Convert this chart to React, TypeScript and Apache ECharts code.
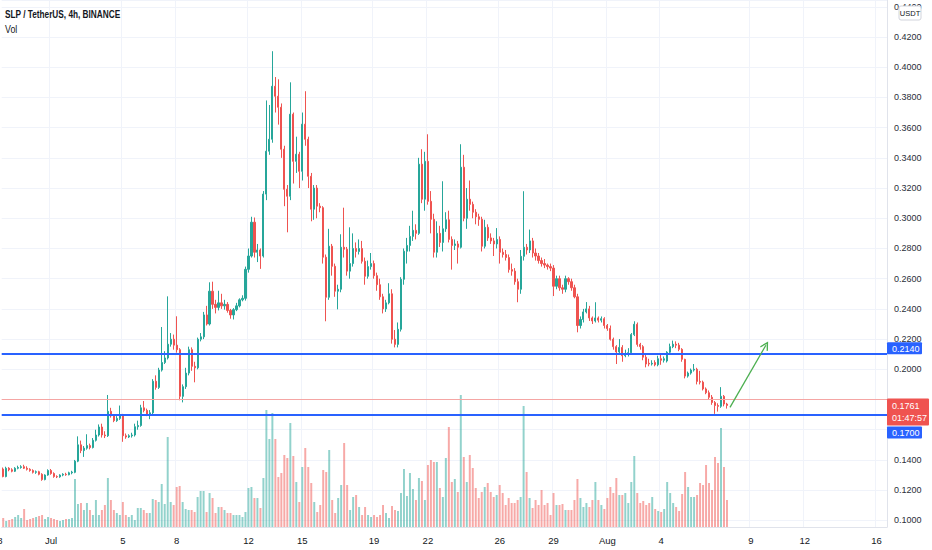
import React, { useEffect, useRef } from "react";
import * as echarts from "echarts";

// ---------- axis categories (4h slots) ----------
const SLOT_HOURS = 4;
const SLOT_COUNT = 296;
const START_UTC = Date.UTC(2021, 5, 28, 8, 0, 0);
const pad = (n: number) => String(n).padStart(2, "0");
const categories: string[] = Array.from({ length: SLOT_COUNT }, (_, i) => {
  const d = new Date(START_UTC + i * SLOT_HOURS * 3600 * 1000);
  return `${pad(d.getUTCMonth() + 1)}-${pad(d.getUTCDate())} ${pad(d.getUTCHours())}:00`;
});

const dateTicks: [string, string][] = [
  ["07-01 00:00", "Jul"], ["07-05 00:00", "5"], ["07-08 00:00", "8"],
  ["07-12 00:00", "12"], ["07-15 00:00", "15"], ["07-19 00:00", "19"], ["07-22 00:00", "22"],
  ["07-26 00:00", "26"], ["07-29 00:00", "29"], ["08-01 00:00", "Aug"], ["08-04 00:00", "4"],
  ["08-09 00:00", "9"], ["08-12 00:00", "12"], ["08-16 00:00", "16"],
];
const leadingTickLabel = "28"; // Jun 28, two slots before the first category

// ---------- OHLC [open, close, low, high] ----------
const ohlcJun28_Jul04: number[][] = [
  [0.1340, 0.1290, 0.1285, 0.1350],
  [0.1290, 0.1345, 0.1285, 0.1355], [0.1345, 0.1335, 0.1325, 0.1352], [0.1335, 0.1325, 0.1318, 0.1345],
  [0.1325, 0.1345, 0.1320, 0.1352], [0.1345, 0.1350, 0.1338, 0.1362], [0.1350, 0.1355, 0.1342, 0.1365],
  [0.1355, 0.1345, 0.1340, 0.1368], [0.1345, 0.1338, 0.1330, 0.1358], [0.1338, 0.1330, 0.1322, 0.1345],
  [0.1330, 0.1318, 0.1310, 0.1338], [0.1318, 0.1322, 0.1308, 0.1330], [0.1322, 0.1305, 0.1298, 0.1328],
  [0.1305, 0.1270, 0.1262, 0.1312], [0.1270, 0.1300, 0.1265, 0.1305], [0.1300, 0.1330, 0.1295, 0.1338],
  [0.1330, 0.1310, 0.1302, 0.1340], [0.1310, 0.1290, 0.1282, 0.1318], [0.1290, 0.1288, 0.1280, 0.1298],
  [0.1288, 0.1300, 0.1282, 0.1305], [0.1300, 0.1305, 0.1292, 0.1312], [0.1305, 0.1302, 0.1295, 0.1315],
  [0.1302, 0.1315, 0.1298, 0.1322], [0.1315, 0.1320, 0.1305, 0.1328], [0.1318, 0.1392, 0.1312, 0.1400],
  [0.1392, 0.1500, 0.1385, 0.1556], [0.1500, 0.1462, 0.1445, 0.1528], [0.1462, 0.1478, 0.1420, 0.1492],
  [0.1478, 0.1495, 0.1468, 0.1570], [0.1495, 0.1482, 0.1470, 0.1508], [0.1482, 0.1530, 0.1476, 0.1545],
  [0.1530, 0.1565, 0.1522, 0.1600], [0.1565, 0.1618, 0.1555, 0.1635], [0.1618, 0.1565, 0.1548, 0.1640],
  [0.1565, 0.1560, 0.1545, 0.1590], [0.1560, 0.1722, 0.1552, 0.1830], [0.1722, 0.1692, 0.1680, 0.1745],
  [0.1692, 0.1660, 0.1650, 0.1700], [0.1660, 0.1675, 0.1652, 0.1690], [0.1675, 0.1700, 0.1665, 0.1760],
];
const ohlcJul05_Jul11: number[][] = [
  [0.1700, 0.1560, 0.1520, 0.1705], [0.1560, 0.1552, 0.1540, 0.1575], [0.1552, 0.1560, 0.1545, 0.1570],
  [0.1560, 0.1565, 0.1548, 0.1580], [0.1565, 0.1620, 0.1555, 0.1640], [0.1620, 0.1628, 0.1600, 0.1660],
  [0.1628, 0.1745, 0.1620, 0.1765], [0.1745, 0.1728, 0.1715, 0.1790], [0.1728, 0.1700, 0.1690, 0.1740],
  [0.1700, 0.1712, 0.1670, 0.1730], [0.1712, 0.1921, 0.1700, 0.1935], [0.1921, 0.1880, 0.1865, 0.1960],
  [0.1880, 0.1995, 0.1870, 0.2010], [0.1995, 0.2045, 0.1985, 0.2280], [0.2045, 0.2075, 0.2035, 0.2120],
  [0.2075, 0.2166, 0.2065, 0.2483], [0.2166, 0.2199, 0.2150, 0.2240], [0.2199, 0.2160, 0.2130, 0.2230],
  [0.2160, 0.2130, 0.2110, 0.2351], [0.2130, 0.1821, 0.1795, 0.2140], [0.1821, 0.1885, 0.1781, 0.1900],
  [0.1885, 0.1975, 0.1870, 0.2010], [0.1975, 0.2130, 0.1960, 0.2150], [0.2130, 0.2020, 0.1990, 0.2145],
  [0.2020, 0.2010, 0.1914, 0.2050], [0.2010, 0.2199, 0.2000, 0.2210], [0.2199, 0.2215, 0.2185, 0.2240],
  [0.2215, 0.2360, 0.2200, 0.2380], [0.2360, 0.2300, 0.2290, 0.2420], [0.2300, 0.2517, 0.2290, 0.2576],
  [0.2517, 0.2430, 0.2400, 0.2580], [0.2430, 0.2410, 0.2370, 0.2460], [0.2410, 0.2440, 0.2390, 0.2520],
  [0.2440, 0.2420, 0.2400, 0.2500], [0.2420, 0.2430, 0.2395, 0.2460], [0.2430, 0.2390, 0.2375, 0.2445],
  [0.2390, 0.2360, 0.2335, 0.2400], [0.2360, 0.2395, 0.2330, 0.2405], [0.2395, 0.2420, 0.2385, 0.2440],
  [0.2420, 0.2460, 0.2410, 0.2470], [0.2460, 0.2470, 0.2450, 0.2490], [0.2470, 0.2662, 0.2455, 0.2680],
];
const ohlcJul12_Jul18: number[][] = [
  [0.2662, 0.2750, 0.2640, 0.2800], [0.2750, 0.2974, 0.2740, 0.3010], [0.2974, 0.2775, 0.2740, 0.3005],
  [0.2775, 0.2790, 0.2710, 0.2830], [0.2790, 0.2750, 0.2665, 0.2800], [0.2750, 0.3160, 0.2740, 0.3180],
  [0.3160, 0.3444, 0.3120, 0.3780], [0.3444, 0.3523, 0.3420, 0.3750], [0.3523, 0.3874, 0.3500, 0.4106],
  [0.3874, 0.3808, 0.3700, 0.3935], [0.3808, 0.3735, 0.3620, 0.3920], [0.3735, 0.3457, 0.3400, 0.3760],
  [0.3457, 0.3192, 0.3080, 0.3480], [0.3192, 0.3146, 0.2907, 0.3220], [0.3146, 0.3689, 0.3120, 0.3900],
  [0.3689, 0.3377, 0.3230, 0.3700], [0.3377, 0.3424, 0.3300, 0.3540], [0.3424, 0.3311, 0.3200, 0.3440],
  [0.3311, 0.3623, 0.3250, 0.3700], [0.3623, 0.3523, 0.3480, 0.3841], [0.3523, 0.3278, 0.3200, 0.3540],
  [0.3278, 0.3060, 0.2980, 0.3300], [0.3060, 0.3200, 0.2990, 0.3220], [0.3200, 0.3080, 0.3000, 0.3220],
  [0.3080, 0.3070, 0.3040, 0.3100], [0.3070, 0.2742, 0.2700, 0.3080], [0.2742, 0.2477, 0.2318, 0.2760],
  [0.2477, 0.2815, 0.2460, 0.2930], [0.2815, 0.2682, 0.2620, 0.2830], [0.2682, 0.2517, 0.2480, 0.2700],
  [0.2517, 0.2530, 0.2397, 0.2560], [0.2530, 0.2808, 0.2510, 0.2894], [0.2808, 0.2795, 0.2740, 0.3070],
  [0.2795, 0.2650, 0.2620, 0.2810], [0.2650, 0.2700, 0.2600, 0.2940], [0.2700, 0.2800, 0.2680, 0.2900],
  [0.2800, 0.2780, 0.2740, 0.2840], [0.2780, 0.2800, 0.2760, 0.2860], [0.2800, 0.2715, 0.2700, 0.2850],
  [0.2715, 0.2616, 0.2560, 0.2740], [0.2616, 0.2680, 0.2600, 0.2720], [0.2680, 0.2700, 0.2660, 0.2770],
];
const ohlcJul19_Jul25: number[][] = [
  [0.2700, 0.2620, 0.2600, 0.2720], [0.2620, 0.2560, 0.2520, 0.2640], [0.2560, 0.2480, 0.2460, 0.2600],
  [0.2480, 0.2400, 0.2370, 0.2500], [0.2400, 0.2440, 0.2380, 0.2460], [0.2440, 0.2500, 0.2430, 0.2570],
  [0.2500, 0.2199, 0.2170, 0.2530], [0.2199, 0.2165, 0.2145, 0.2260], [0.2165, 0.2265, 0.2145, 0.2310],
  [0.2265, 0.2596, 0.2250, 0.2610], [0.2596, 0.2782, 0.2560, 0.2800], [0.2782, 0.2820, 0.2700, 0.2870],
  [0.2820, 0.2880, 0.2780, 0.2950], [0.2880, 0.2920, 0.2850, 0.3050], [0.2920, 0.2900, 0.2860, 0.2960],
  [0.2900, 0.3358, 0.2890, 0.3400], [0.3358, 0.3126, 0.3100, 0.3457], [0.3126, 0.3377, 0.3050, 0.3440],
  [0.3377, 0.3112, 0.3090, 0.3556], [0.3112, 0.2993, 0.2900, 0.3180], [0.2993, 0.2775, 0.2740, 0.3030],
  [0.2775, 0.2900, 0.2740, 0.2980], [0.2900, 0.2840, 0.2810, 0.2950], [0.2840, 0.2930, 0.2780, 0.3245],
  [0.2930, 0.2990, 0.2910, 0.3040], [0.2990, 0.2860, 0.2840, 0.3050], [0.2860, 0.2820, 0.2660, 0.2880],
  [0.2820, 0.2830, 0.2790, 0.2860], [0.2830, 0.2808, 0.2700, 0.2850], [0.2808, 0.3338, 0.2800, 0.3490],
  [0.3338, 0.3000, 0.2980, 0.3420], [0.3000, 0.3126, 0.2930, 0.3200], [0.3126, 0.3092, 0.3050, 0.3250],
  [0.3092, 0.3040, 0.3000, 0.3110], [0.3040, 0.3010, 0.2960, 0.3060], [0.3010, 0.2993, 0.2950, 0.3030],
  [0.2993, 0.2815, 0.2780, 0.3010], [0.2815, 0.2940, 0.2800, 0.2990], [0.2940, 0.2870, 0.2850, 0.2960],
  [0.2870, 0.2850, 0.2830, 0.2900], [0.2850, 0.2830, 0.2750, 0.2870], [0.2830, 0.2860, 0.2800, 0.2935],
];
const ohlcJul26_Aug01: number[][] = [
  [0.2860, 0.2775, 0.2700, 0.2880], [0.2775, 0.2760, 0.2740, 0.2800], [0.2760, 0.2740, 0.2720, 0.2790],
  [0.2740, 0.2660, 0.2640, 0.2760], [0.2660, 0.2650, 0.2620, 0.2700], [0.2650, 0.2580, 0.2560, 0.2670],
  [0.2580, 0.2530, 0.2444, 0.2600], [0.2530, 0.2748, 0.2500, 0.2790], [0.2748, 0.2808, 0.2720, 0.3179],
  [0.2808, 0.2790, 0.2760, 0.2830], [0.2790, 0.2850, 0.2770, 0.2925], [0.2850, 0.2770, 0.2740, 0.2870],
  [0.2770, 0.2750, 0.2720, 0.2800], [0.2750, 0.2720, 0.2700, 0.2770], [0.2720, 0.2700, 0.2680, 0.2740],
  [0.2700, 0.2690, 0.2670, 0.2730], [0.2690, 0.2680, 0.2660, 0.2700], [0.2680, 0.2670, 0.2650, 0.2700],
  [0.2670, 0.2550, 0.2485, 0.2690], [0.2550, 0.2600, 0.2530, 0.2620], [0.2600, 0.2540, 0.2520, 0.2620],
  [0.2540, 0.2530, 0.2500, 0.2560], [0.2530, 0.2600, 0.2510, 0.2620], [0.2600, 0.2580, 0.2560, 0.2610],
  [0.2580, 0.2540, 0.2520, 0.2600], [0.2540, 0.2480, 0.2470, 0.2560], [0.2480, 0.2290, 0.2245, 0.2500],
  [0.2290, 0.2330, 0.2270, 0.2350], [0.2330, 0.2380, 0.2310, 0.2400], [0.2380, 0.2400, 0.2370, 0.2445],
  [0.2400, 0.2340, 0.2320, 0.2420], [0.2340, 0.2320, 0.2300, 0.2350], [0.2320, 0.2340, 0.2310, 0.2444],
  [0.2340, 0.2325, 0.2310, 0.2350], [0.2325, 0.2335, 0.2310, 0.2350], [0.2335, 0.2290, 0.2270, 0.2345],
  [0.2290, 0.2270, 0.2255, 0.2300], [0.2270, 0.2199, 0.2190, 0.2290], [0.2199, 0.2150, 0.2130, 0.2210],
  [0.2150, 0.2115, 0.2035, 0.2160], [0.2115, 0.2145, 0.2100, 0.2200], [0.2145, 0.2090, 0.2050, 0.2160],
];
const ohlcAug02_Aug07: number[][] = [
  [0.2090, 0.2105, 0.2080, 0.2130], [0.2105, 0.2110, 0.2085, 0.2140], [0.2110, 0.2230, 0.2100, 0.2240],
  [0.2230, 0.2298, 0.2220, 0.2318], [0.2298, 0.2165, 0.2150, 0.2310], [0.2165, 0.2150, 0.2130, 0.2175],
  [0.2150, 0.2080, 0.2060, 0.2160], [0.2080, 0.2035, 0.2013, 0.2095], [0.2040, 0.2035, 0.2020, 0.2070],
  [0.2035, 0.2040, 0.2025, 0.2060], [0.2045, 0.2030, 0.2020, 0.2060], [0.2030, 0.2070, 0.2020, 0.2090],
  [0.2070, 0.2060, 0.2030, 0.2100], [0.2060, 0.2070, 0.2045, 0.2085], [0.2055, 0.2113, 0.2045, 0.2120],
  [0.2113, 0.2150, 0.2100, 0.2170], [0.2150, 0.2166, 0.2140, 0.2190], [0.2166, 0.2160, 0.2140, 0.2185],
  [0.2160, 0.2132, 0.2120, 0.2175], [0.2132, 0.2066, 0.2050, 0.2140], [0.2066, 0.1955, 0.1940, 0.2070],
  [0.1955, 0.1975, 0.1945, 0.1985], [0.1975, 0.1995, 0.1965, 0.2005], [0.1995, 0.2000, 0.1985, 0.2035],
  [0.2000, 0.1920, 0.1900, 0.2010], [0.1920, 0.1915, 0.1900, 0.1990], [0.1915, 0.1870, 0.1860, 0.1925],
  [0.1870, 0.1845, 0.1835, 0.1880], [0.1845, 0.1815, 0.1800, 0.1860], [0.1815, 0.1780, 0.1765, 0.1830],
  [0.1780, 0.1760, 0.1705, 0.1790], [0.1760, 0.1755, 0.1720, 0.1775], [0.1755, 0.1821, 0.1745, 0.1882],
  [0.1821, 0.1770, 0.1755, 0.1830], [0.1770, 0.1761, 0.1740, 0.1778],
];
const ohlc: number[][] = [
  ...ohlcJun28_Jul04, ...ohlcJul05_Jul11, ...ohlcJul12_Jul18,
  ...ohlcJul19_Jul25, ...ohlcJul26_Aug01, ...ohlcAug02_Aug07,
];

// ---------- volume (relative units) ----------
const volumes: number[] = [
  9, 6, 7, 8, 10, 12, 9, 18, 7, 8, 9, 10, 11, 12, 8, 10, 9, 8,
  7, 6, 7, 8, 8, 9, 48, 23, 24, 17, 24, 17, 12, 27, 12, 17, 22, 49, 27, 17,
  14, 12, 25, 12, 10, 12, 7, 19, 19, 17, 14, 14, 28, 27, 25, 43, 23, 90, 25, 22,
  40, 41, 25, 18, 17, 17, 15, 30, 36, 36, 15, 34, 29, 14, 20, 20, 17, 14, 14, 12,
  12, 12, 10, 15, 39, 40, 29, 29, 19, 49, 117, 88, 114, 88, 50, 54, 72, 69, 104, 71,
  45, 25, 60, 79, 60, 44, 25, 15, 22, 57, 55, 77, 27, 14, 29, 42, 84, 42, 17, 30,
  32, 20, 12, 20, 12, 10, 12, 10, 12, 22, 14, 9, 21, 17, 16, 34, 58, 31, 54, 38,
  27, 49, 46, 27, 62, 67, 65, 65, 39, 30, 69, 100, 45, 48, 35, 132, 70, 45, 72, 59,
  39, 29, 35, 40, 44, 35, 30, 32, 42, 34, 22, 29, 24, 24, 27, 30, 121, 55, 29, 19,
  27, 22, 37, 22, 24, 12, 34, 22, 22, 23, 17, 17, 17, 27, 48, 29, 20, 24, 20, 27,
  45, 27, 22, 18, 29, 40, 34, 49, 32, 32, 34, 24, 45, 71, 34, 24, 26, 22, 24, 30,
  18, 16, 15, 18, 45, 34, 24, 20, 16, 33, 55, 40, 30, 30, 32, 44, 42, 62, 44, 37,
  70, 64, 99, 60, 27,
];
const VOLUME_AXIS_MAX = 527;

// ---------- price axis range ----------
const PRICE_MIN = 0.0956;
const PRICE_MAX = 0.4445;
const PRICE_STEP = 0.02;

// ---------- levels & annotation ----------
const supportLevels: number[] = [0.214, 0.17];
const lastPrice = 0.1761;
const countdown = "01:47:57";
const hiddenAxisBand: [number, number] = [0.155, 0.185]; // covered by the price tags
const projection: [string, number][] = [
  [categories[243], 0.1748],
  [categories[255], 0.2159],
];

const UP = "#26a69a";
const DOWN = "#ef5350";
const UP_VOL = "rgba(38,166,154,0.5)";
const DOWN_VOL = "rgba(239,83,80,0.5)";
const BLUE = "#2962ff";
const TEXT = "#131722";
const FONT = "'Liberation Sans', Arial, sans-serif";

const GRID_LEFT = 1.7;
const GRID_RIGHT = 45;
const GRID_BOTTOM = 23;

export default function App() {
  const ref = useRef<HTMLDivElement | null>(null);

  useEffect(() => {
    if (!ref.current) return;
    const chart = echarts.init(ref.current, undefined, { renderer: "svg" });
    const tickMap: Record<string, string> = {};
    dateTicks.forEach(([k, v]) => (tickMap[k] = v));
    const isTick = (idx: number) => tickMap[categories[idx]] !== undefined;

    const option: any = {
      animation: false,
      backgroundColor: "#ffffff",
      grid: [
        { left: GRID_LEFT, right: GRID_RIGHT, top: 0, bottom: GRID_BOTTOM },
        { left: GRID_LEFT, right: GRID_RIGHT, top: 0, bottom: GRID_BOTTOM },
      ],
      xAxis: [
        { type: "category", gridIndex: 0, data: categories, show: false, boundaryGap: true },
        {
          type: "category", gridIndex: 1, data: categories, boundaryGap: true,
          axisLine: { show: true, lineStyle: { color: "#e0e3eb", width: 1 } },
          axisTick: { show: false },
          axisLabel: {
            interval: (idx: number) => isTick(idx),
            formatter: (v: string) => tickMap[v] ?? "",
            color: TEXT, fontSize: 9.5, fontFamily: FONT, margin: 8,
          },
          splitLine: {
            show: true, interval: (idx: number) => isTick(idx),
            lineStyle: { color: "#f0f3fa", width: 1 },
          },
        },
      ],
      yAxis: [
        {
          type: "value", gridIndex: 0, position: "right", min: PRICE_MIN, max: PRICE_MAX,
          splitNumber: 17, minInterval: PRICE_STEP, maxInterval: PRICE_STEP,
          axisLine: { show: true, lineStyle: { color: "#e0e3eb" } },
          axisTick: { show: false },
          axisLabel: {
            color: "#2a2e39", fontSize: 9, fontFamily: FONT, margin: 7,
            showMinLabel: false, showMaxLabel: false,
            formatter: (v: number) =>
              v > hiddenAxisBand[0] && v < hiddenAxisBand[1] ? "" : v.toFixed(4),
          },
          splitLine: { show: true, lineStyle: { color: "#f0f3fa", width: 1 } },
        },
        { type: "value", gridIndex: 1, min: 0, max: VOLUME_AXIS_MAX, show: false },
      ],
      series: [
        {
          name: "Vol", type: "bar", xAxisIndex: 1, yAxisIndex: 1, barWidth: "66%", z: 1,
          data: volumes.map((v, i) => ({
            value: v,
            itemStyle: { color: ohlc[i][1] >= ohlc[i][0] ? UP_VOL : DOWN_VOL },
          })),
          emphasis: { disabled: true },
        },
        {
          name: "SLP", type: "candlestick", xAxisIndex: 0, yAxisIndex: 0, barWidth: "55%", z: 3,
          data: ohlc,
          itemStyle: { color: UP, color0: DOWN, borderColor: UP, borderColor0: DOWN, borderWidth: 1 },
          emphasis: { disabled: true },
          markLine: {
            silent: true, animation: false, symbol: ["none", "none"],
            label: { show: false }, emphasis: { disabled: true },
            data: [
              { yAxis: lastPrice, lineStyle: { color: "#f5a6a4", width: 1, type: "solid" } },
              ...supportLevels.map((v) => ({ yAxis: v, lineStyle: { color: BLUE, width: 2, type: "solid" } })),
              [
                { coord: projection[0], symbol: "none", lineStyle: { color: "#4caf50", width: 1.3, type: "solid" } },
                {
                  coord: projection[1],
                  symbol: "path://M5,0L10,8.6L8.9,9.5L5,3.1L1.1,9.5L0,8.6Z",
                  symbolSize: [9, 9],
                },
              ],
            ],
          },
        },
      ],
    };
    chart.setOption(option);

    const yOf = (v: number) => chart.convertToPixel({ yAxisIndex: 0 }, v) as number;
    const x0 = chart.convertToPixel({ xAxisIndex: 1 }, categories[0]) as number;
    const x1 = chart.convertToPixel({ xAxisIndex: 1 }, categories[1]) as number;
    const slotW = x1 - x0;
    const axisX = chart.getWidth() - GRID_RIGHT;
    const labelY = chart.getHeight() - GRID_BOTTOM + 8 + 5;
    const yTop = yOf(supportLevels[0]);
    const yLast = yOf(lastPrice);
    const redTop = yLast - 7;
    const redH = 27;
    const blue2Top = redTop + redH + 1;
    const txt = (text: string, x: number, y: number, fill: string, size = 9, weight: any = "normal", sx = 1) => ({
      type: "text", x, y, z: 101, scaleX: sx,
      style: { text, fill, fontSize: size, fontFamily: FONT, fontWeight: weight, verticalAlign: "middle", align: "left" },
    });

    chart.setOption({
      graphic: [
        txt("SLP / TetherUS, 4h, BINANCE", 5, 14, TEXT, 11, "bold", 0.75),
        txt("Vol", 5, 29, TEXT, 11, "normal", 0.8),
        {
          type: "text", z: 50, x: x0 - 2 * slotW, y: labelY,
          style: { text: leadingTickLabel, fill: TEXT, fontSize: 9.5, fontFamily: FONT, align: "center", verticalAlign: "middle" },
        },
        { type: "rect", z: 100, shape: { x: axisX, y: yTop - 6, width: 35, height: 12, r: 1 }, style: { fill: BLUE } },
        txt(supportLevels[0].toFixed(4), axisX + 5, yTop + 0.5, "#ffffff"),
        { type: "rect", z: 100, shape: { x: axisX, y: redTop, width: 42, height: redH, r: 1 }, style: { fill: DOWN } },
        txt(lastPrice.toFixed(4), axisX + 5, yLast + 0.5, "#ffffff"),
        txt(countdown, axisX + 5, yLast + 13, "#ffffff"),
        { type: "rect", z: 100, shape: { x: axisX, y: blue2Top, width: 35, height: 12, r: 1 }, style: { fill: BLUE } },
        txt(supportLevels[1].toFixed(4), axisX + 5, blue2Top + 6.5, "#ffffff"),
        {
          type: "rect", z: 100, shape: { x: axisX + 12, y: 6, width: 22, height: 14, r: 2 },
          style: { fill: "#ffffff", stroke: "#d1d4dc", lineWidth: 1 },
        },
        {
          type: "text", z: 101, x: axisX + 23, y: 13.5,
          style: { text: "USDT", fill: TEXT, fontSize: 7.5, fontFamily: FONT, align: "center", verticalAlign: "middle" },
        },
      ],
    });

    return () => chart.dispose();
  }, []);

  return (
    <div
      ref={ref}
      style={{ position: "fixed", left: 0, top: 0, width: 932, height: 550, background: "#fff" }}
    />
  );
}
